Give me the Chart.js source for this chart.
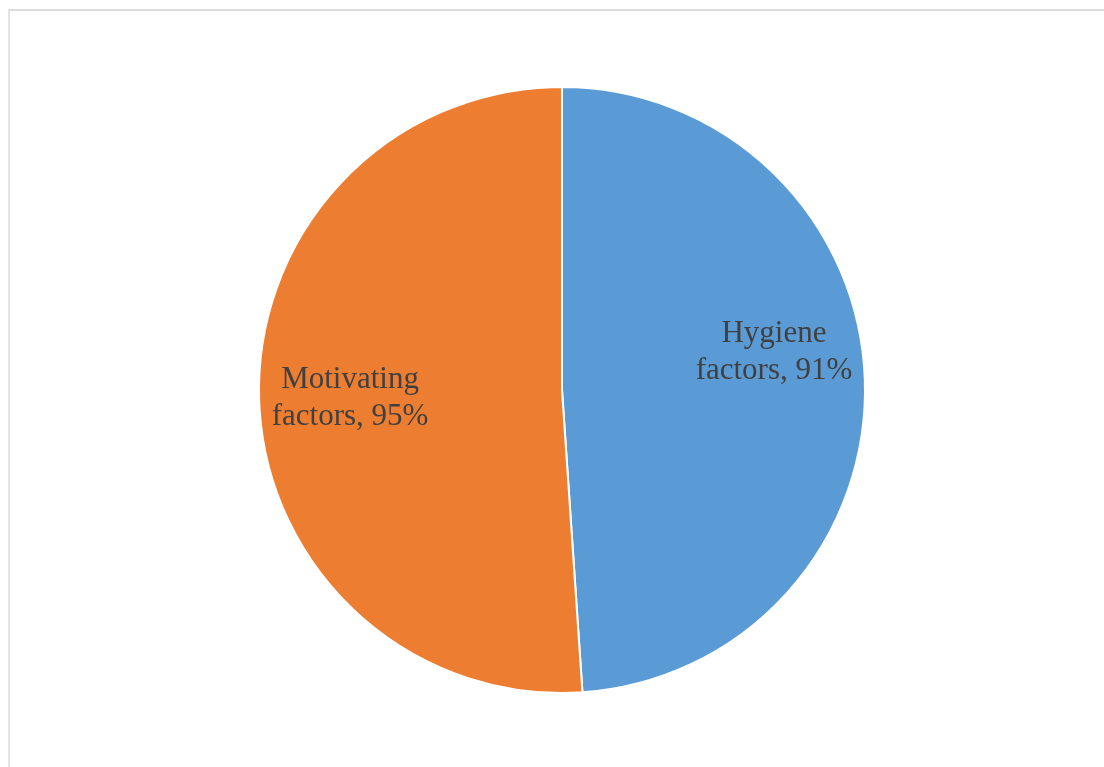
<!DOCTYPE html>
<html>
<head>
<meta charset="utf-8">
<script src="https://cdn.jsdelivr.net/npm/chart.js@4/dist/chart.umd.min.js"></script>
<style>
  html, body { margin: 0; padding: 0; background: #fff; }
  #frame {
    position: absolute; left: 8px; top: 9px; width: 1110px; height: 770px;
    border-top: 2px solid #dcdcdc; border-left: 2px solid #e4e4e4;
  }
  #wrap { position: absolute; left: 0; top: 0; width: 1104px; height: 767px; }
</style>
</head>
<body>
<div id="frame"></div>
<div id="wrap"><canvas id="myChart"></canvas></div>
<script>
const factors = ['Hygiene factors', 'Motivating factors'];
const percents = [91, 95];
const sliceColors = ['#5B9BD5', '#ED7D31'];

// writes "name, value%" inside each slice, on two lines
const sliceLabels = {
  id: 'sliceLabels',
  afterDatasetsDraw(chart) {
    const ctx = chart.ctx;
    const arcs = chart.getDatasetMeta(0).data;
    const nudgeY = [-31, 1];
    ctx.save();
    ctx.font = '31px "Liberation Serif", "Times New Roman", serif';
    ctx.fillStyle = '#404040';
    ctx.textAlign = 'center';
    ctx.textBaseline = 'middle';
    arcs.forEach(function (arc, i) {
      const mid = (arc.startAngle + arc.endAngle) / 2;
      const r = arc.outerRadius * 0.7;
      const x = arc.x + Math.cos(mid) * r;
      const y = arc.y + Math.sin(mid) * r + nudgeY[i];
      const words = factors[i].split(' ');
      ctx.fillText(words[0], x, y - 18);
      ctx.fillText(words[1] + ', ' + percents[i] + '%', x, y + 19);
    });
    ctx.restore();
  }
};

new Chart(document.getElementById('myChart'), {
  type: 'pie',
  data: {
    labels: factors,
    datasets: [{
      data: percents,
      backgroundColor: sliceColors,
      borderColor: '#ffffff',
      borderWidth: 2
    }]
  },
  options: {
    responsive: true,
    maintainAspectRatio: false,
    animation: false,
    layout: { padding: { left: 258, right: 238, top: 86, bottom: 73 } },
    plugins: {
      legend: { display: false },
      tooltip: { enabled: false }
    }
  },
  plugins: [sliceLabels]
});
</script>
</body>
</html>
